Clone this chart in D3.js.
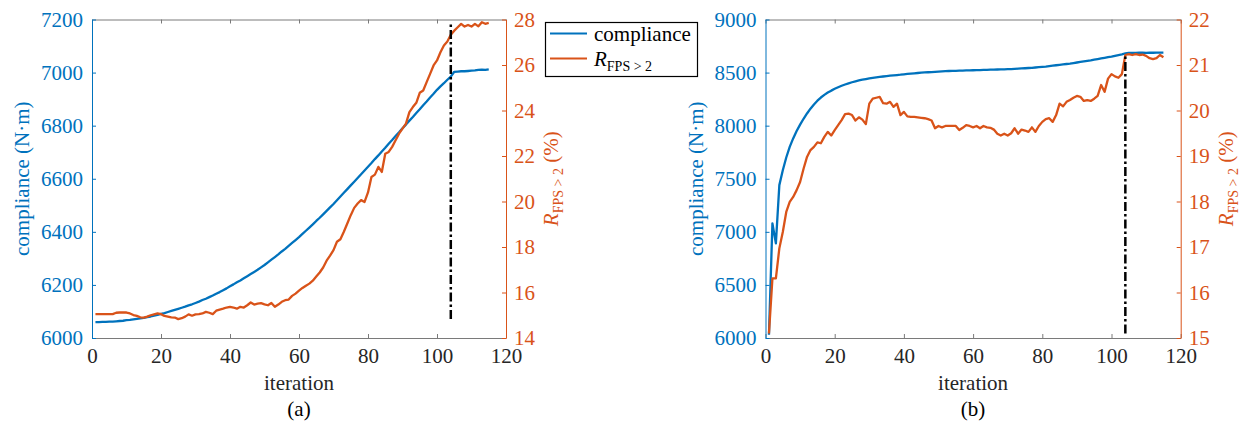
<!DOCTYPE html>
<html>
<head>
<meta charset="utf-8">
<script src="https://cdn.jsdelivr.net/npm/d3@7"></script>
<style>
  body { margin: 0; background: #fff; }
  svg { display: block; }
</style>
</head>
<body>
<svg id="chart" width="1240" height="424"></svg>
<script>
// values, iteration 1..115
const iterations = d3.range(1, 116)

const complianceA = [
  6060, 6060, 6061, 6061, 6062, 6062, 6063, 6064, 6065, 6067,
  6068, 6070, 6072, 6074, 6076, 6079, 6081, 6084, 6087, 6091,
  6094, 6098, 6102, 6106, 6110, 6114, 6118, 6123, 6127, 6132,
  6137, 6143, 6148, 6154, 6160, 6167, 6173, 6180, 6187, 6195,
  6202, 6210, 6217, 6225, 6233, 6241, 6249, 6257, 6266, 6275,
  6285, 6295, 6305, 6315, 6326, 6336, 6347, 6358, 6369, 6380,
  6392, 6404, 6416, 6428, 6441, 6453, 6466, 6479, 6492, 6505,
  6519, 6533, 6547, 6561, 6575, 6589, 6603, 6617, 6631, 6645,
  6659, 6674, 6688, 6703, 6717, 6732, 6746, 6761, 6775, 6790,
  6804, 6819, 6833, 6848, 6862, 6877, 6891, 6906, 6920, 6935,
  6948, 6960, 6973, 6985, 7003, 7004, 7005, 7005, 7006, 7007,
  7008, 7010, 7011, 7010, 7012
]
const ratioA = [
  15.05, 15.05, 15.05, 15.05, 15.05, 15.05, 15.11, 15.12, 15.12, 15.12,
  15.08, 15.01, 14.97, 14.91, 14.90, 14.94, 15.00, 15.04, 15.08, 15.05,
  14.97, 14.94, 14.91, 14.90, 14.83, 14.87, 14.94, 15.04, 14.98, 15.04,
  15.05, 15.08, 15.15, 15.11, 15.05, 15.20, 15.25, 15.29, 15.34, 15.37,
  15.34, 15.29, 15.37, 15.34, 15.44, 15.56, 15.47, 15.51, 15.53, 15.48,
  15.44, 15.54, 15.37, 15.47, 15.59, 15.66, 15.69, 15.85, 15.95, 16.08,
  16.20, 16.30, 16.39, 16.52, 16.70, 16.88, 17.10, 17.40, 17.62, 17.86,
  18.23, 18.34, 18.67, 19.03, 19.40, 19.72, 19.91, 20.06, 19.98, 20.40,
  21.08, 21.18, 21.52, 21.30, 22.10, 22.18, 22.40, 22.69, 22.98, 23.20,
  23.42, 23.93, 24.15, 24.34, 24.78, 24.88, 25.25, 25.61, 25.98, 26.20,
  26.56, 26.86, 27.03, 27.33, 27.51, 27.66, 27.81, 27.69, 27.76, 27.69,
  27.81, 27.70, 27.88, 27.81, 27.85
]
const complianceB = [
  6030, 7080, 6891, 7440, 7580, 7700, 7800, 7880, 7950, 8010,
  8065, 8115, 8160, 8200, 8235, 8265, 8290, 8312, 8330, 8347,
  8362, 8376, 8388, 8399, 8409, 8418, 8426, 8433, 8439, 8445,
  8450, 8455, 8459, 8463, 8467, 8471, 8474, 8477, 8480, 8484,
  8487, 8490, 8493, 8496, 8499, 8501, 8503, 8505, 8507, 8509,
  8511, 8513, 8515, 8516, 8517, 8518, 8519, 8520, 8521, 8522,
  8523, 8524, 8525, 8526, 8527, 8528, 8529, 8530, 8531, 8532,
  8533, 8535, 8537, 8539, 8541, 8543, 8545, 8548, 8551, 8554,
  8557, 8561, 8565, 8569, 8573, 8577, 8581, 8585, 8590, 8595,
  8600, 8605, 8610, 8615, 8621, 8627, 8633, 8639, 8645, 8651,
  8658, 8665, 8672, 8680, 8685, 8686, 8686, 8687, 8687, 8686,
  8687, 8687, 8688, 8688, 8688
]
const ratioB = [
  15.10, 16.31, 16.31, 16.97, 17.33, 17.77, 17.99, 18.10, 18.25, 18.43,
  18.72, 18.98, 19.13, 19.20, 19.30, 19.28, 19.42, 19.53, 19.45, 19.57,
  19.68, 19.79, 19.92, 19.93, 19.90, 19.78, 19.85, 19.80, 19.70, 20.15,
  20.26, 20.28, 20.30, 20.16, 20.15, 20.19, 20.08, 20.15, 19.90, 19.97,
  19.87, 19.86, 19.86, 19.85, 19.84, 19.83, 19.81, 19.78, 19.61, 19.66,
  19.63, 19.66, 19.66, 19.66, 19.66, 19.57, 19.62, 19.68, 19.66, 19.63,
  19.66, 19.61, 19.66, 19.63, 19.62, 19.58, 19.49, 19.45, 19.49, 19.45,
  19.50, 19.61, 19.49, 19.58, 19.56, 19.53, 19.63, 19.53, 19.66, 19.75,
  19.81, 19.83, 19.75, 19.90, 20.15, 20.09, 20.19, 20.23, 20.28, 20.32,
  20.30, 20.21, 20.23, 20.21, 20.26, 20.32, 20.56, 20.41, 20.70, 20.80,
  20.75, 20.72, 20.80, 21.22, 21.24, 21.22, 21.24, 21.22, 21.23, 21.20,
  21.15, 21.13, 21.15, 21.22, 21.17
]

const xTicks = [0, 20, 40, 60, 80, 100, 120]
const leftTicksA = [6000, 6200, 6400, 6600, 6800, 7000, 7200]
const rightTicksA = [14, 16, 18, 20, 22, 24, 26, 28]
const leftTicksB = [6000, 6500, 7000, 7500, 8000, 8500, 9000]
const rightTicksB = [15, 16, 17, 18, 19, 20, 21, 22]
const markIteration = 104
const seriesNames = ["compliance", "R"]

const BLUE = "#0072BD",
    ORANGE = "#D95319",
    DARK = "#262626",
    FONT = "'Liberation Serif', 'Times New Roman', serif"

const fmt = d3.format("d")

const svg = d3.select("#chart")
svg.append("rect").attr("width", 1240).attr("height", 424).attr("fill", "#fff")

var plotTop = 19.5,
    plotBottom = 338

function ratioLabel(sel) {
    sel.append("tspan").attr("font-style", "italic").text("R")
    sel.append("tspan").attr("font-size", 14).attr("dy", 5).text("FPS > 2")
}

function styleAxis(g, color, lineColor) {
    g.attr("color", color)
        .attr("font-family", FONT)
        .attr("font-size", 21)
    g.select(".domain").attr("stroke", lineColor || color).attr("stroke-width", 1)
    g.selectAll(".tick line").attr("stroke", lineColor || color).attr("stroke-width", 1)
}

function drawPanel(cfg) {
    const g = svg.append("g")
    const x = d3.scaleLinear().domain([0, 120]).range([cfg.x0, cfg.x1])
    const yL = d3.scaleLinear().domain(cfg.leftDomain).range([plotBottom, plotTop])
    const yR = d3.scaleLinear().domain(cfg.rightDomain).range([plotBottom, plotTop])

    // top + bottom (box)
    g.append("g")
        .attr("transform", "translate(0," + plotTop + ")")
        .call(d3.axisTop(x).tickValues(xTicks).tickSize(-4).tickSizeOuter(0).tickFormat(""))
        .call(styleAxis, DARK, "#7a7a7a")

    g.append("g")
        .attr("transform", "translate(0," + plotBottom + ")")
        .call(d3.axisBottom(x).tickValues(xTicks).tickFormat(fmt).tickSize(-4).tickSizeOuter(0).tickPadding(10))
        .call(styleAxis, DARK, "#7a7a7a")

    g.append("g")
        .attr("transform", "translate(" + cfg.x0 + ",0)")
        .call(d3.axisLeft(yL).tickValues(cfg.leftTicks).tickFormat(fmt).tickSize(-4).tickSizeOuter(0).tickPadding(9))
        .call(styleAxis, BLUE)

    g.append("g")
        .attr("transform", "translate(" + cfg.x1 + ",0)")
        .call(d3.axisRight(yR).tickValues(cfg.rightTicks).tickFormat(fmt).tickSize(-4).tickSizeOuter(0).tickPadding(8))
        .call(styleAxis, ORANGE)

    const lineL = d3.line().x((d, i) => x(iterations[i])).y(d => yL(d))
    const lineR = d3.line().x((d, i) => x(iterations[i])).y(d => yR(d))

    g.append("path")
        .attr("d", lineL(cfg.compliance))
        .attr("fill", "none")
        .attr("stroke", BLUE)
        .attr("stroke-width", 2.3)
        .attr("stroke-linejoin", "round")

    g.append("path")
        .attr("d", lineR(cfg.ratio))
        .attr("fill", "none")
        .attr("stroke", ORANGE)
        .attr("stroke-width", 2.3)
        .attr("stroke-linejoin", "round")

    // marker line spanning the ratio range
    const ext = d3.extent(cfg.ratio)
    g.append("line")
        .attr("x1", x(markIteration)).attr("x2", x(markIteration))
        .attr("y1", yR(ext[0])).attr("y2", yR(ext[1]))
        .attr("stroke", "#000")
        .attr("stroke-width", 2.5)
        .attr("stroke-dasharray", "9,3,2.5,3")

    const cx = (cfg.x0 + cfg.x1) / 2
    const cy = (plotTop + plotBottom) / 2

    g.append("text")
        .attr("x", cx).attr("y", 390)
        .attr("text-anchor", "middle")
        .attr("font-family", FONT).attr("font-size", 21)
        .attr("fill", DARK)
        .text("iteration")

    g.append("text")
        .attr("x", cx).attr("y", 416)
        .attr("text-anchor", "middle")
        .attr("font-family", FONT).attr("font-size", 21)
        .attr("fill", "#000")
        .text(cfg.caption)

    g.append("text")
        .attr("transform", "translate(" + (cfg.x0 - 63) + "," + cy + ") rotate(-90)")
        .attr("text-anchor", "middle")
        .attr("font-family", FONT).attr("font-size", 21)
        .attr("fill", BLUE)
        .text("compliance (N\u00B7m)")

    const rl = g.append("text")
        .attr("transform", "translate(" + (cfg.x1 + 52) + "," + cy + ") rotate(-90)")
        .attr("text-anchor", "middle")
        .attr("font-family", FONT).attr("font-size", 21)
        .attr("fill", ORANGE)
    ratioLabel(rl)
    rl.append("tspan").attr("dy", -5).text(" (%)")
}

drawPanel({
    x0: 92, x1: 506,
    leftDomain: [6000, 7200], rightDomain: [14, 28],
    leftTicks: leftTicksA, rightTicks: rightTicksA,
    compliance: complianceA, ratio: ratioA,
    caption: "(a)"
})

drawPanel({
    x0: 765.5, x1: 1180.7,
    leftDomain: [6000, 9000], rightDomain: [15, 22],
    leftTicks: leftTicksB, rightTicks: rightTicksB,
    compliance: complianceB, ratio: ratioB,
    caption: "(b)"
})

// legend
const legend = svg.append("g")
legend.append("rect")
    .attr("x", 545.5).attr("y", 22.5)
    .attr("width", 152).attr("height", 54)
    .attr("fill", "#fff").attr("stroke", "#000").attr("stroke-width", 1.2)

seriesNames.forEach(function (name, i) {
    const yy = 33.5 + i * 25
    legend.append("line")
        .attr("x1", 550).attr("x2", 587)
        .attr("y1", yy).attr("y2", yy)
        .attr("stroke", i === 0 ? BLUE : ORANGE)
        .attr("stroke-width", 2)
    const t = legend.append("text")
        .attr("x", 594).attr("y", yy + 7)
        .attr("font-family", FONT).attr("font-size", 21)
        .attr("fill", "#000")
    if (i === 0) t.text(name)
    else ratioLabel(t)
})
</script>
</body>
</html>
